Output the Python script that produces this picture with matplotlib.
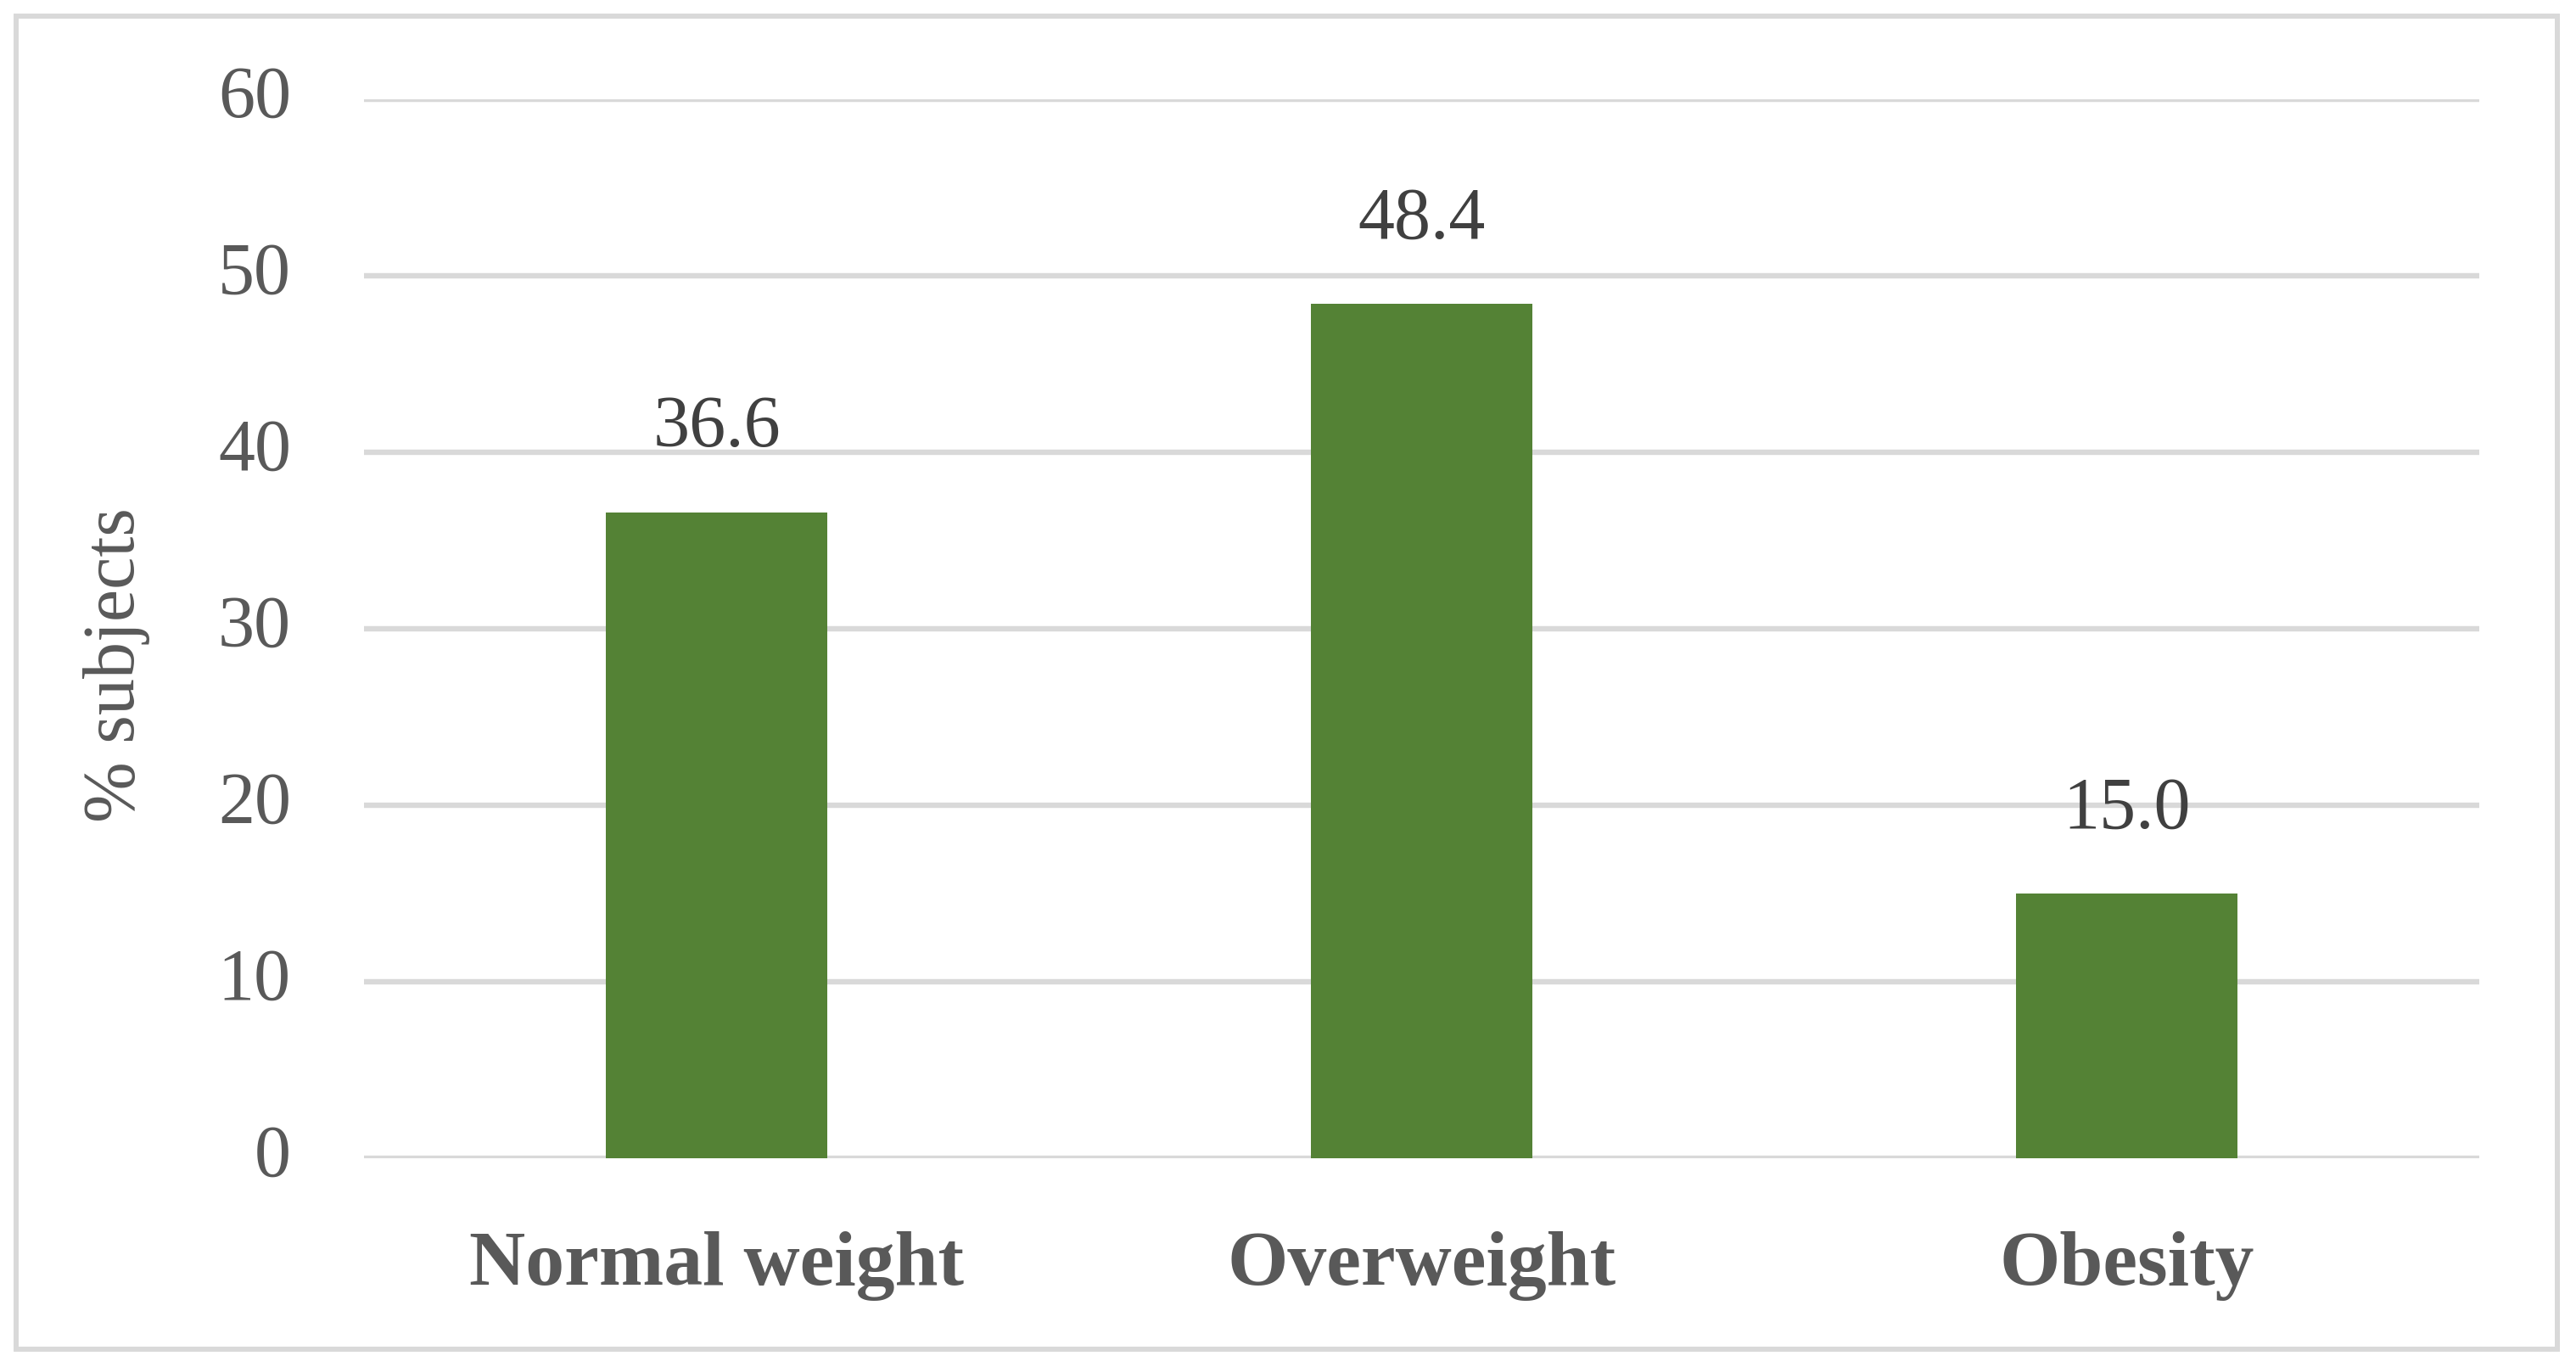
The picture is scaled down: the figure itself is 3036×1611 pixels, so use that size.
import matplotlib
matplotlib.use('Agg')
import matplotlib.pyplot as plt
from matplotlib.patches import Rectangle

plt.rcParams['font.family'] = ['Liberation Serif', 'DejaVu Serif']

categories = ['Normal weight', 'Overweight', 'Obesity']
percent = [36.6, 48.4, 15.0]
yticks = [0, 10, 20, 30, 40, 50, 60]

bar_color = '#548235'
grid_color = '#d9d9d9'
text_color = '#595959'

W, H = 3036, 1611
fig = plt.figure(figsize=(W / 100, H / 100), dpi=100)
ax = fig.add_axes([429 / W, 1 - 1365 / H, (2922 - 429) / W, (1365 - 117) / H])

x = range(len(categories))
bars = ax.bar(x, percent, width=0.314, color=bar_color, zorder=3)

for b, v in zip(bars, percent):
    ax.annotate(f'{v:.1f}', (b.get_x() + b.get_width() / 2, v),
                xytext=(0, 42), textcoords='offset points',
                ha='center', va='bottom', fontsize=62, color='#404040')

ax.set_xlim(-0.5, 2.5)
ax.set_ylim(0, 60)
ax.set_yticks(yticks)
ax.set_xticks(list(x))
ax.set_xticklabels(categories, fontsize=66, fontweight='bold', color=text_color)
ax.tick_params(axis='y', length=0, pad=62, labelsize=62, labelcolor=text_color)
ax.tick_params(axis='x', length=0, pad=62)
for lbl in ax.get_yticklabels():
    lbl.set_verticalalignment('center')
ax.yaxis.grid(True, color=grid_color, linewidth=4.6, zorder=0)
ax.set_axisbelow(True)
for s in ax.spines.values():
    s.set_visible(False)

fig.text(137 / W, 1 - 784 / H, '% subjects', rotation=90, ha='center', va='center',
         fontsize=62, color=text_color)

# outer frame
fig.patches.append(Rectangle((19 / W, 1 - 1590 / H), (3014 - 19) / W, (1590 - 19) / H,
                             transform=fig.transFigure, fill=False,
                             edgecolor=grid_color, linewidth=4.3))

fig.savefig('out.png', dpi=100)
